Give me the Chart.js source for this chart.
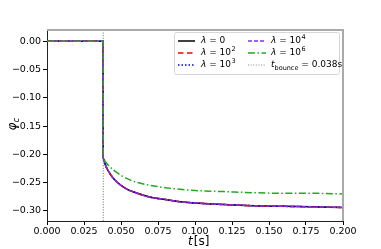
<!DOCTYPE html>
<html>
<head>
<meta charset="utf-8">
<script src="https://cdn.jsdelivr.net/npm/chart.js@4/dist/chart.umd.min.js"></script>
<style>
  html, body { margin: 0; padding: 0; background: #fff; }
  #wrap { width: 381px; height: 249px; }
</style>
</head>
<body>
<div id="wrap"><canvas id="phiChart" width="381" height="249"></canvas></div>
<script>
const times = [0, 0.01, 0.02, 0.03, 0.0379, 0.038, 0.0385, 0.039, 0.040, 0.042, 0.045, 0.050, 0.055, 0.060, 0.070, 0.080, 0.090, 0.100, 0.120, 0.140, 0.160, 0.180, 0.200];
// lambda = 0, 1e2, 1e3, 1e4 lie on top of each other
const phiLow = [0, 0, 0, 0, 0, -0.205, -0.210, -0.215, -0.222, -0.232, -0.243, -0.255, -0.263, -0.268, -0.276, -0.280, -0.284, -0.286, -0.289, -0.291, -0.292, -0.293, -0.294];
const phiHigh = [0, 0, 0, 0, 0, -0.205, -0.208, -0.211, -0.215, -0.221, -0.228, -0.237, -0.244, -0.249, -0.255, -0.259, -0.262, -0.264, -0.266, -0.268, -0.269, -0.269, -0.270];
const tBounce = 0.038;
const xTicks = [0, 0.025, 0.05, 0.075, 0.1, 0.125, 0.15, 0.175, 0.2];
const yTicks = [0, -0.05, -0.1, -0.15, -0.2, -0.25, -0.3];

const pts = (ys) => times.map((t, i) => ({ x: t, y: ys[i] }));

const series = [
  { exp: '0', data: phiLow, color: '#000000', dash: [], plain: true },
  { exp: '2', data: phiLow, color: '#ff0000', dash: [5.5, 3.5] },
  { exp: '3', data: phiLow, color: '#0000ff', dash: [1.5, 2] },
  { exp: '4', data: phiLow, color: '#8a2be2', dash: [4, 2] },
  { exp: '6', data: phiHigh, color: '#22aa22', dash: [7, 2.5, 1.5, 2.5] }
];

const fontFam = '"DejaVu Sans", sans-serif';

function lambdaLabel(ctx, x, y, s) {
  ctx.font = 'italic 9px ' + fontFam;
  ctx.fillText('λ', x, y);
  x += ctx.measureText('λ').width;
  ctx.font = '9px ' + fontFam;
  const base = s.plain ? ' = 0' : ' = 10';
  ctx.fillText(base, x, y);
  x += ctx.measureText(base).width;
  if (!s.plain) {
    ctx.font = '6.5px ' + fontFam;
    ctx.fillText(s.exp, x + 0.5, y - 4);
  }
}

const decor = {
  id: 'decor',
  afterDraw(chart) {
    const ctx = chart.ctx;
    const a = chart.chartArea;
    const xs = chart.scales.x;
    ctx.save();
    // bounce line
    const bx = xs.getPixelForValue(tBounce);
    ctx.strokeStyle = '#666';
    ctx.lineWidth = 1;
    ctx.setLineDash([1, 1.6]);
    ctx.beginPath();
    ctx.moveTo(bx, a.top);
    ctx.lineTo(bx, a.bottom);
    ctx.stroke();
    ctx.setLineDash([]);
    // frame: top/right light
    ctx.strokeStyle = '#aaaaaa';
    ctx.lineWidth = 2;
    ctx.beginPath();
    ctx.moveTo(a.left, a.top);
    ctx.lineTo(a.right, a.top);
    ctx.lineTo(a.right, a.bottom);
    ctx.stroke();

    // axis titles
    ctx.fillStyle = '#000';
    ctx.textBaseline = 'alphabetic';
    ctx.font = 'italic 12px ' + fontFam;
    const tx = (a.left + a.right) / 2 - 7;
    ctx.fillText('t', tx, 245);
    let w = ctx.measureText('t').width;
    ctx.font = '12px ' + fontFam;
    ctx.fillText('[s]', tx + w + 1, 245);

    ctx.save();
    ctx.translate(16, (a.top + a.bottom) / 2 + 5);
    ctx.rotate(-Math.PI / 2);
    ctx.font = 'italic 12px ' + fontFam;
    ctx.fillText('φ', 0, 0);
    w = ctx.measureText('φ').width;
    ctx.font = 'italic 8.5px ' + fontFam;
    ctx.fillText('c', w, 3);
    ctx.restore();

    // legend
    const lx = 174, ly = 32, lw = 165, lh = 42;
    ctx.fillStyle = 'rgba(255,255,255,0.8)';
    ctx.strokeStyle = '#d6d6d6';
    ctx.lineWidth = 1;
    ctx.beginPath();
    ctx.roundRect(lx + 0.5, ly + 0.5, lw, lh, 2);
    ctx.fill();
    ctx.stroke();

    const rows = [41, 53, 65];
    const cols = [[178, 195, 201], [248, 266, 271]];
    const items = series.map(s => ({ s })).concat([{ bounce: true }]);
    items.forEach((it, k) => {
      const col = cols[Math.floor(k / 3)];
      const ry = rows[k % 3];
      ctx.lineWidth = it.bounce ? 1 : 1.5;
      ctx.strokeStyle = it.bounce ? '#888' : it.s.color;
      ctx.setLineDash(it.bounce ? [1, 1.6] : it.s.dash);
      ctx.beginPath();
      ctx.moveTo(col[0], ry);
      ctx.lineTo(col[1], ry);
      ctx.stroke();
      ctx.setLineDash([]);
      ctx.fillStyle = '#000';
      ctx.textBaseline = 'middle';
      if (it.bounce) {
        let x = col[2];
        ctx.font = 'italic 9px ' + fontFam;
        ctx.fillText('t', x, ry);
        x += ctx.measureText('t').width;
        ctx.font = '6.5px ' + fontFam;
        ctx.fillText('bounce', x, ry + 3);
        x += ctx.measureText('bounce').width;
        ctx.font = '9px ' + fontFam;
        ctx.fillText(' = 0.038s', x, ry);
      } else {
        lambdaLabel(ctx, col[2], ry, it.s);
      }
    });
    ctx.restore();
  }
};

new Chart(document.getElementById('phiChart'), {
  type: 'line',
  data: {
    datasets: series.map((s, i) => ({
      data: pts(s.data),
      borderColor: s.color,
      borderWidth: 1.5,
      borderDash: s.dash,
      pointRadius: 0,
      fill: false,
      order: -i,
      cubicInterpolationMode: 'monotone'
    }))
  },
  options: {
    responsive: false,
    animation: false,
    layout: { padding: { left: 0, right: 38, top: 30, bottom: 0 } },
    plugins: { legend: { display: false }, tooltip: { enabled: false } },
    scales: {
      x: {
        type: 'linear',
        min: 0,
        max: 0.2,
        afterBuildTicks: (sc) => { sc.ticks = xTicks.map(v => ({ value: v })); },
        afterFit: (sc) => { sc.height = 28; },
        grid: { drawOnChartArea: false, drawTicks: true, tickLength: 4, tickColor: '#000' },
        border: { display: true, color: '#222', width: 1 },
        ticks: {
          color: '#000', padding: 1, maxRotation: 0, autoSkip: false,
          font: { family: fontFam, size: 9.5 },
          callback: (v) => v.toFixed(3)
        }
      },
      y: {
        min: -0.318,
        max: 0.02,
        afterBuildTicks: (sc) => { sc.ticks = yTicks.map(v => ({ value: v })); },
        afterFit: (sc) => { sc.width = 47; },
        grid: { drawOnChartArea: false, drawTicks: true, tickLength: 4, tickColor: '#000' },
        border: { display: true, color: '#222', width: 1 },
        ticks: {
          color: '#000', padding: 2,
          font: { family: fontFam, size: 9.5 },
          callback: (v) => v.toFixed(2).replace('-', '\u2212')
        }
      }
    }
  },
  plugins: [decor]
});
</script>
</body>
</html>
